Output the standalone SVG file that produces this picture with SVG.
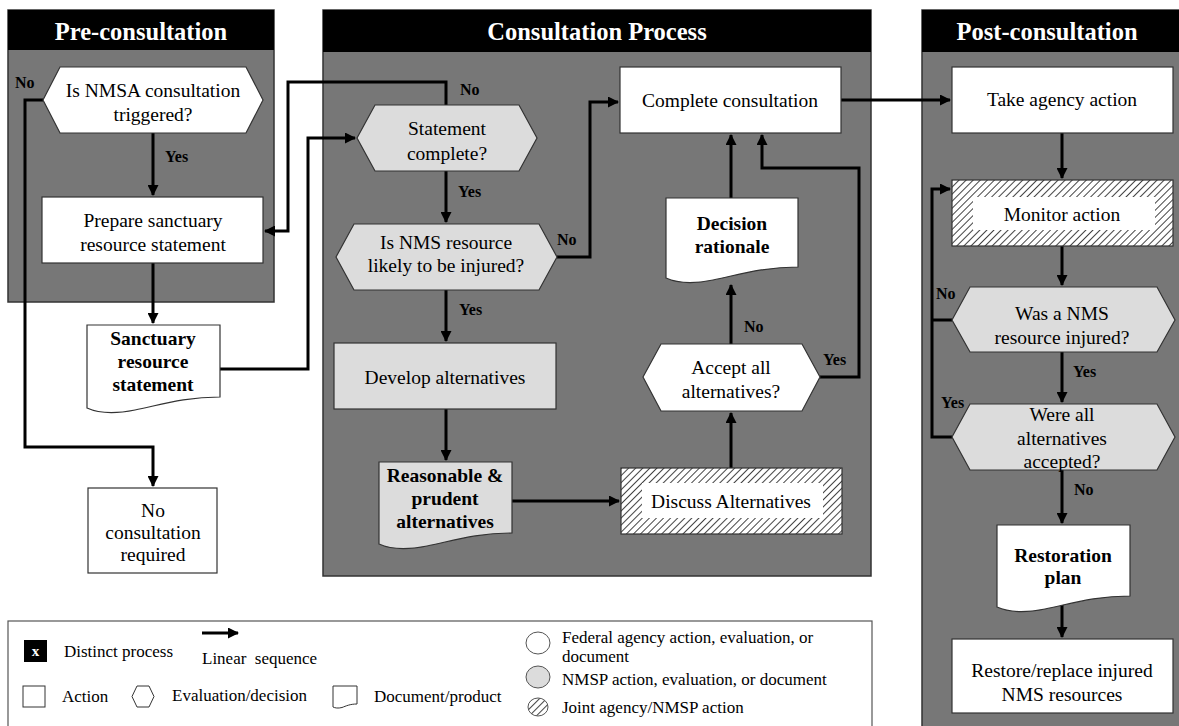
<svg xmlns="http://www.w3.org/2000/svg" width="1179" height="726" viewBox="0 0 1179 726">
<defs>
<marker id="ah" markerWidth="11" markerHeight="11" refX="10" refY="5.5" orient="auto" markerUnits="userSpaceOnUse">
<path d="M0,0 L11,5.5 L0,11 Z" fill="#000"/>
</marker>
<pattern id="hatch" width="5" height="5" patternUnits="userSpaceOnUse" patternTransform="rotate(45)">
<rect width="5" height="5" fill="#fff"/>
<line x1="0" y1="0" x2="0" y2="5" stroke="#444" stroke-width="2"/>
</pattern>
<style>
text{font-family:'Liberation Serif','Times New Roman','DejaVu Serif',serif}
.panel{fill:#777;stroke:#333;stroke-width:1.5}
.hdr{fill:#000}
.htxt{font-weight:bold;font-size:24.5px;fill:#fff;text-anchor:middle}
.w{fill:#fff;stroke:#333;stroke-width:1.2}
.g{fill:#dcdcdc;stroke:#333;stroke-width:1.2}
.h{fill:url(#hatch);stroke:#333;stroke-width:1.2}
.t{font-size:19.5px;fill:#000;text-anchor:middle}
.tb{font-size:19.5px;font-weight:bold;fill:#000;text-anchor:middle}
.lbl{font-size:16px;font-weight:bold;fill:#000}
.c{fill:none;stroke:#000;stroke-width:3}
.lt{font-size:17px;fill:#000}
</style>
</defs>

<g id="panels">
<rect class="panel" x="8" y="10" width="266" height="292"/>
<rect class="hdr" x="8" y="10" width="266" height="40"/>
<text class="htxt" x="141" y="40">Pre-consultation</text>
<rect class="panel" x="323" y="10" width="548" height="566"/>
<rect class="hdr" x="323" y="10" width="548" height="42"/>
<text class="htxt" x="597" y="40">Consultation Process</text>
<rect class="panel" x="922" y="10" width="262" height="730"/>
<rect class="hdr" x="922" y="10" width="262" height="42"/>
<text class="htxt" x="1047" y="40">Post-consultation</text>
</g>

<g id="connectors">
<path class="c" d="M153,133 V195" marker-end="url(#ah)"/>
<path class="c" d="M43,100 H25 V447 H153 V486" marker-end="url(#ah)"/>
<path class="c" d="M153,263 V323" marker-end="url(#ah)"/>
<path class="c" d="M220,369 H308 V138 H355" marker-end="url(#ah)"/>
<path class="c" d="M446,105 V82 H288 V231 H265" marker-end="url(#ah)"/>
<path class="c" d="M446,171 V222" marker-end="url(#ah)"/>
<path class="c" d="M557,257 H590 V102 H618" marker-end="url(#ah)"/>
<path class="c" d="M446,290 V341" marker-end="url(#ah)"/>
<path class="c" d="M446,409 V460" marker-end="url(#ah)"/>
<path class="c" d="M512,501 H619" marker-end="url(#ah)"/>
<path class="c" d="M731,468 V413" marker-end="url(#ah)"/>
<path class="c" d="M731,344 V285" marker-end="url(#ah)"/>
<path class="c" d="M731,198 V135" marker-end="url(#ah)"/>
<path class="c" d="M820,377 H859 V168 H762 V135" marker-end="url(#ah)"/>
<path class="c" d="M841,100 H950" marker-end="url(#ah)"/>
<path class="c" d="M1062,133 V178" marker-end="url(#ah)"/>
<path class="c" d="M1062,246 V285" marker-end="url(#ah)"/>
<path class="c" d="M1062,352 V402" marker-end="url(#ah)"/>
<path class="c" d="M1062,470 V523" marker-end="url(#ah)"/>
<path class="c" d="M1062,603 V637" marker-end="url(#ah)"/>
<path class="c" d="M952,320 H932"/>
<path class="c" d="M952,437 H932 V189 H950" marker-end="url(#ah)"/>
<text class="lbl" x="165" y="162">Yes</text>
<text class="lbl" x="15" y="88">No</text>
<text class="lbl" x="460" y="95">No</text>
<text class="lbl" x="458" y="197">Yes</text>
<text class="lbl" x="557" y="245">No</text>
<text class="lbl" x="459" y="315">Yes</text>
<text class="lbl" x="744" y="332">No</text>
<text class="lbl" x="823" y="365">Yes</text>
<text class="lbl" x="936" y="299">No</text>
<text class="lbl" x="941" y="408">Yes</text>
<text class="lbl" x="1073" y="377">Yes</text>
<text class="lbl" x="1074" y="495">No</text>
</g>

<g id="n-trigger">
<polygon class="w" points="43,100 60,67 246,67 263,100 246,133 60,133"/>
<text class="t" x="153" y="97">Is NMSA consultation</text>
<text class="t" x="153" y="121">triggered?</text>
</g>
<g id="n-prepare">
<rect class="w" x="42" y="197" width="221" height="66"/>
<text class="t" x="153" y="227">Prepare sanctuary</text>
<text class="t" x="153" y="251">resource statement</text>
</g>
<g id="n-statement-doc">
<path class="w" d="M87,325 H220 V397 C185,397 160,405 135,410 C115,414 98,413 87,408 Z"/>
<text class="tb" x="153" y="345">Sanctuary</text>
<text class="tb" x="153" y="368">resource</text>
<text class="tb" x="153" y="391">statement</text>
</g>
<g id="n-noconsult">
<rect class="w" x="88" y="488" width="129" height="85"/>
<text class="t" x="153" y="517">No</text>
<text class="t" x="153" y="539">consultation</text>
<text class="t" x="153" y="561">required</text>
</g>

<g id="n-stmt-complete">
<polygon class="g" points="357,138 375,105 519,105 537,138 519,171 375,171"/>
<text class="t" x="447" y="135">Statement</text>
<text class="t" x="447" y="160">complete?</text>
</g>
<g id="n-likely">
<polygon class="g" points="336,257 354,224 539,224 557,257 539,290 354,290"/>
<text class="t" x="446" y="249">Is NMS resource</text>
<text class="t" x="446" y="272">likely to be injured?</text>
</g>
<g id="n-develop">
<rect class="g" x="334" y="343" width="222" height="66"/>
<text class="t" x="445" y="384">Develop alternatives</text>
</g>
<g id="n-reasonable">
<path class="g" d="M379,462 H512 V533 C477,533 452,541 427,546 C407,550 390,549 379,544 Z"/>
<text class="tb" x="445" y="482">Reasonable &amp;</text>
<text class="tb" x="445" y="505">prudent</text>
<text class="tb" x="445" y="528">alternatives</text>
</g>
<g id="n-discuss">
<rect class="h" x="621" y="468" width="221" height="66"/>
<rect x="642" y="483" width="181" height="35" fill="#fff"/>
<text class="t" x="731" y="508">Discuss Alternatives</text>
</g>
<g id="n-accept">
<polygon class="w" points="643,377 661,344 802,344 820,377 802,411 661,411"/>
<text class="t" x="731" y="374">Accept all</text>
<text class="t" x="731" y="398">alternatives?</text>
</g>
<g id="n-rationale">
<path class="w" d="M666,198 H798 V267 C763,267 738,275 713,280 C693,284 677,283 666,278 Z"/>
<text class="tb" x="732" y="230">Decision</text>
<text class="tb" x="732" y="253">rationale</text>
</g>
<g id="n-complete">
<rect class="w" x="620" y="67" width="221" height="66"/>
<text class="t" x="730" y="107">Complete consultation</text>
</g>

<g id="n-take">
<rect class="w" x="952" y="67" width="221" height="66"/>
<text class="t" x="1062" y="106">Take agency action</text>
</g>
<g id="n-monitor">
<rect class="h" x="952" y="180" width="221" height="66"/>
<rect x="973" y="197" width="182" height="33" fill="#fff"/>
<text class="t" x="1062" y="221">Monitor action</text>
</g>
<g id="n-injured">
<polygon class="g" points="952,320 970,287 1157,287 1175,320 1157,352 970,352"/>
<text class="t" x="1062" y="320">Was a NMS</text>
<text class="t" x="1062" y="344">resource injured?</text>
</g>
<g id="n-accepted">
<polygon class="g" points="952,437 970,404 1157,404 1175,437 1157,470 970,470"/>
<text class="t" x="1062" y="421">Were all</text>
<text class="t" x="1062" y="445">alternatives</text>
<text class="t" x="1062" y="468">accepted?</text>
</g>
<g id="n-restoration">
<path class="w" d="M997,525 H1130 V596 C1095,596 1070,604 1045,609 C1025,613 1008,612 997,607 Z"/>
<text class="tb" x="1063" y="562">Restoration</text>
<text class="tb" x="1063" y="584">plan</text>
</g>
<g id="n-restore">
<rect class="w" x="952" y="639" width="221" height="74"/>
<text class="t" x="1062" y="677">Restore/replace injured</text>
<text class="t" x="1062" y="701">NMS resources</text>
</g>

<g id="legend">
<rect x="8" y="621" width="864" height="110" fill="#fff" stroke="#555" stroke-width="1.2"/>
<rect x="24" y="640" width="23" height="22" fill="#000"/>
<text x="35.5" y="656" font-size="15" font-weight="bold" fill="#fff" text-anchor="middle">x</text>
<text class="lt" x="64" y="657">Distinct process</text>
<path d="M202,633 H238" stroke="#000" stroke-width="3" marker-end="url(#ah)"/>
<text class="lt" x="202" y="664" xml:space="preserve">Linear  sequence</text>
<rect x="23" y="686" width="22" height="21" fill="#fff" stroke="#333" stroke-width="1"/>
<text class="lt" x="62" y="702">Action</text>
<polygon points="132,696.5 137,686 149,686 154,696.5 149,707 137,707" fill="#fff" stroke="#333" stroke-width="1"/>
<text class="lt" x="172" y="701">Evaluation/decision</text>
<path d="M333,686 H357 V704 C350,704 346,706 342,707.5 C338,708.5 335,708 333,707 Z" fill="#fff" stroke="#333" stroke-width="1"/>
<text class="lt" x="374" y="702">Document/product</text>
<ellipse cx="538" cy="643" rx="12" ry="11" fill="#fff" stroke="#555" stroke-width="1"/>
<text class="lt" x="562" y="643">Federal agency action, evaluation, or</text>
<text class="lt" x="562" y="662">document</text>
<ellipse cx="538" cy="677" rx="12" ry="11" fill="#dcdcdc" stroke="#555" stroke-width="1"/>
<text class="lt" x="562" y="685">NMSP action, evaluation, or document</text>
<ellipse cx="538" cy="707" rx="10" ry="9" fill="url(#hatch)" stroke="#555" stroke-width="1"/>
<text class="lt" x="562" y="713">Joint agency/NMSP action</text>
</g>
</svg>
